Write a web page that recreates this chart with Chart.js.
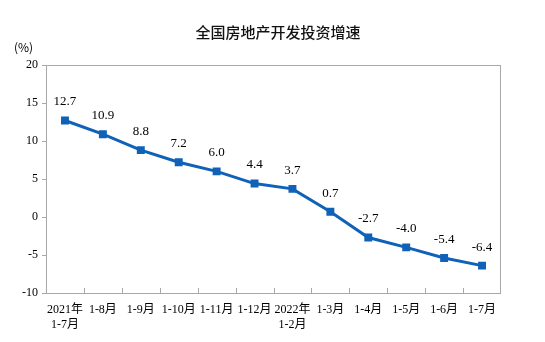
<!DOCTYPE html>
<html>
<head>
<meta charset="utf-8">
<script src="https://cdn.jsdelivr.net/npm/chart.js@4.4.0/dist/chart.umd.min.js"></script>
<style>
  html, body { margin: 0; padding: 0; background: #fff; }
  #wrap { width: 545px; height: 342px; position: relative; }
</style>
</head>
<body>
<div id="wrap"><canvas id="chart"></canvas></div>
<script>
// data
const categories = [
    ['2021年', '1-7月'], '1-8月', '1-9月', '1-10月', '1-11月', '1-12月',
    ['2022年', '1-2月'], '1-3月', '1-4月', '1-5月', '1-6月', '1-7月'
];
const growthRate = [12.7, 10.9, 8.8, 7.2, 6.0, 4.4, 3.7, 0.7, -2.7, -4.0, -5.4, -6.4];
const yTicks = [-10, -5, 0, 5, 10, 15, 20];

const chartTitle = '全国房地产开发投资增速';
const unitLabel = '(%)';

const SERIF = "'Liberation Serif', 'Noto Sans CJK SC', serif";
const LINE_BLUE = '#0F62B8';
const FRAME = '#A8A8A8';

/* ---------- title, frame, inner x ticks, unit, value labels ---------- */
const decorPlugin = {
    id: 'decor',
    afterDraw(chart) {
        const { ctx, chartArea: a, scales } = chart;
        const x = scales.x;

        ctx.save();
        // plot frame
        ctx.strokeStyle = FRAME;
        ctx.lineWidth = 1;
        ctx.strokeRect(a.left + 0.5, a.top + 0.5, a.right - a.left - 1, a.bottom - a.top);

        // small tick marks between categories, pointing up into the plot
        const half = (x.getPixelForValue(1) - x.getPixelForValue(0)) / 2;
        ctx.beginPath();
        for (let i = 0; i < categories.length - 1; i++) {
            const px = Math.round(x.getPixelForValue(i) + half) + 0.5;
            ctx.moveTo(px, a.bottom);
            ctx.lineTo(px, a.bottom - 5);
        }
        ctx.stroke();

        // title, centred a little right of the canvas middle like the original
        ctx.fillStyle = '#111';
        ctx.font = "500 15px 'Noto Sans CJK SC', sans-serif";
        ctx.textAlign = 'center';
        ctx.textBaseline = 'middle';
        ctx.fillText(chartTitle, 278, 32);

        // unit label
        ctx.fillStyle = '#000';
        ctx.font = "12px 'Noto Sans CJK SC', sans-serif";
        ctx.textAlign = 'left';
        ctx.fillText(unitLabel, 14, 47);

        // value labels above the points
        ctx.font = '13px ' + SERIF;
        ctx.textAlign = 'center';
        ctx.textBaseline = 'bottom';
        chart.getDatasetMeta(0).data.forEach((pt, i) => {
            ctx.fillText(growthRate[i].toFixed(1), pt.x, pt.y - 12);
        });
        ctx.restore();
    }
};

new Chart(document.getElementById('chart'), {
    type: 'line',
    data: {
        labels: categories,
        datasets: [{
            data: growthRate,
            borderColor: LINE_BLUE,
            backgroundColor: LINE_BLUE,
            borderWidth: 3,
            pointStyle: 'rect',
            pointRadius: 3.5,
            pointHoverRadius: 3.5,
            tension: 0
        }]
    },
    options: {
        responsive: true,
        maintainAspectRatio: false,
        animation: false,
        layout: { padding: { left: 0, right: 44, top: 65, bottom: 4 } },
        plugins: {
            legend: { display: false },
            tooltip: { enabled: false },
            title: { display: false }
        },
        scales: {
            x: {
                offset: true,
                grid: { display: false },
                border: { display: false },
                ticks: {
                    color: '#000',
                    font: { family: SERIF, size: 12, lineHeight: 1.25 },
                    maxRotation: 0,
                    autoSkip: false,
                    padding: 1
                },
                afterFit(scale) { scale.height = 45; }
            },
            y: {
                min: -10,
                max: 20,
                afterBuildTicks(scale) {
                    scale.ticks = yTicks.map(v => ({ value: v }));
                },
                grid: {
                    drawOnChartArea: false,
                    color: FRAME,
                    tickLength: 4
                },
                border: { display: false },
                ticks: {
                    color: '#000',
                    font: { family: SERIF, size: 12 },
                    padding: 4
                },
                afterFit(scale) { scale.width = 46; }
            }
        }
    },
    plugins: [decorPlugin]
});
</script>
</body>
</html>
